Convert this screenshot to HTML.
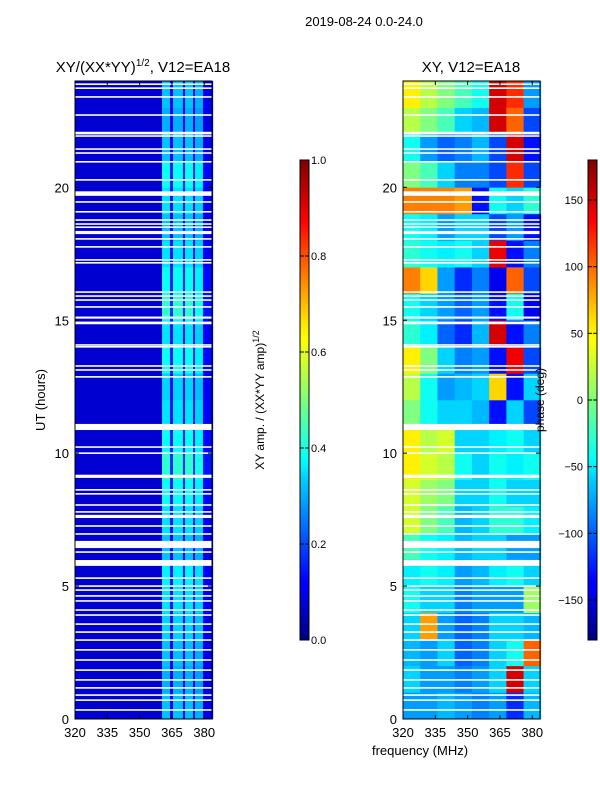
<!DOCTYPE html>
<html><head><meta charset="utf-8"><style>
body{margin:0;background:#fff;font-family:"Liberation Sans",sans-serif;}
svg text{font-family:"Liberation Sans",sans-serif;}
</style></head><body>
<svg id="fig" width="600" height="800" xmlns="http://www.w3.org/2000/svg">
<defs>
<linearGradient id="jet" x1="0" y1="1" x2="0" y2="0">
<stop offset="0" stop-color="#00007f"/><stop offset="0.11" stop-color="#0000ff"/><stop offset="0.125" stop-color="#0000ff"/>
<stop offset="0.34" stop-color="#00d4ff"/><stop offset="0.375" stop-color="#00ffff"/><stop offset="0.5" stop-color="#7dff7a"/>
<stop offset="0.625" stop-color="#ffff00"/><stop offset="0.66" stop-color="#ffe600"/><stop offset="0.875" stop-color="#ff0000"/><stop offset="1" stop-color="#7f0000"/>
</linearGradient>
</defs>
<text x="364" y="26" font-size="13" text-anchor="middle">2019-08-24 0.0-24.0</text>
<text x="143" y="72" font-size="15" text-anchor="middle">XY/(XX*YY)<tspan dy="-6" font-size="10">1/2</tspan><tspan dy="6">, V12=EA18</tspan></text>
<text x="471" y="72" font-size="15" text-anchor="middle">XY, V12=EA18</text>
<text transform="translate(45,400) rotate(-90)" font-size="13" text-anchor="middle">UT (hours)</text>
<text x="420" y="755" font-size="13" text-anchor="middle">frequency (MHz)</text>
<text transform="translate(264,400) rotate(-90)" font-size="12" text-anchor="middle">XY amp. / (XX*YY amp)<tspan dy="-5" font-size="9">1/2</tspan></text>
<g id="p1"></g>
<g id="p2"></g>
<g id="axes"></g>
<text transform="translate(544,400) rotate(-90)" font-size="12" text-anchor="middle">phase (deg)</text>
<rect x="300" y="160" width="9" height="480" fill="url(#jet)" stroke="#000" stroke-width="1"/>
<rect x="588" y="160" width="9" height="480" fill="url(#jet)" stroke="#000" stroke-width="1"/>
<g id="cb"></g>
</svg>
<script>
const ampFreqEdges=[320,360.4,364.1,365.5,370.1,371.1,374.8,375.7,379.4,384];
const ampBase=[0.08,0.35,0.14,0.35,0.14,0.35,0.14,0.33,0.12];
const ampRowGain=[0.9,0.85,0.9,0.95,1.0,1.05,0.9,1.0,1.1,1.2,1.1,1.0,0.95,1.1,1.0,1.2,1.1,1.0,0.9,1.0,1.1,0.9,0.85,0.9];
const phaseFreqEdges=[320,328,336,344,352,360,368,376,384];
const phaseVals=[
[-80,-80,-70,-80,-90,-80,-120,-70],
[-60,-80,-80,-90,-80,-60,150,-60],
[-70,-80,-60,-100,-90,-60,-40,100],
[-60,80,-80,-100,-90,-60,-60,-70],
[-40,-60,-60,-90,-80,-80,-80,10],
[-50,-40,-50,-80,-70,-50,-40,-60],
[-20,-40,-50,-70,-60,-60,-80,-80],
[30,0,-20,-70,-60,-30,-30,-50],
[30,10,0,-60,-60,-40,-60,-60],
[50,30,20,-40,-60,-40,-50,-40],
[50,20,30,-60,-60,-50,-40,-60],
[0,-40,-60,-60,-70,-130,-60,-110],
[20,-40,-80,-70,-60,60,-130,-60],
[50,0,-60,-90,-80,-130,140,-110],
[-30,-50,-100,-120,-70,150,-130,-90],
[-40,-60,-80,-100,-80,-130,-40,-140],
[90,60,-80,-120,-90,-140,100,-110],
[-30,-40,-50,-40,-60,140,-130,-90],
[-40,-50,-80,-60,-60,-110,-80,-130],
[90,90,90,80,-130,-40,-60,-30],
[0,-20,-60,-90,-90,-110,120,-110],
[-40,-80,-100,-90,-70,-110,150,-130],
[20,0,-20,-60,-70,150,100,-110],
[50,20,0,-20,-40,150,120,-80]];
const gapStarts=[23.85,23.7,23.37,22.69,21.99,21.9,21.41,21.26,20.93,20.25,19.68,19.42,19.05,18.74,18.59,18.47,18.24,18.03,17.73,17.24,17.13,16.03,15.88,15.73,15.47,15.06,14.85,14.04,13.97,13.25,13.1,12.84,10.87,10.2,9.97,9.07,8.59,8.44,8.02,7.76,7.56,7.23,6.93,6.43,6.25,5.76,5.27,4.97,4.82,4.6,4.41,4.07,3.88,3.54,3.24,2.94,2.57,2.19,1.81,1.44,1.14,0.87,0.68,0.31];
const gapWidths=[0.06,0.06,0.06,0.06,0.1,0.06,0.06,0.06,0.06,0.06,0.17,0.06,0.06,0.06,0.06,0.06,0.12,0.06,0.06,0.06,0.06,0.06,0.06,0.06,0.06,0.08,0.1,0.06,0.06,0.06,0.06,0.06,0.23,0.06,0.06,0.12,0.06,0.06,0.06,0.06,0.12,0.06,0.06,0.27,0.06,0.22,0.06,0.06,0.06,0.06,0.06,0.06,0.06,0.06,0.06,0.06,0.06,0.06,0.06,0.06,0.06,0.06,0.06,0.06];
const xTicks=[320,335,350,365,380];
const yTicks=[0,5,10,15,20];
const ampTicks=[0,0.2,0.4,0.6,0.8,1.0];
const phaseTicks=[-150,-100,-50,0,50,100,150];

const NS="http://www.w3.org/2000/svg";
const Y0=719,Y1=81;
const yS=h=>Y0-(h/24)*(Y0-Y1);
const xS=(x0)=>f=>x0+(f-320)*(137/63.6);
const xL=xS(75),xR=xS(403);
function jet(v){v=Math.max(0,Math.min(1,v));
 const r=Math.max(0,Math.min(1,1.5-Math.abs(4*v-3))),g=Math.max(0,Math.min(1,1.5-Math.abs(4*v-2))),b=Math.max(0,Math.min(1,1.5-Math.abs(4*v-1)));
 return `rgb(${Math.round(r*255)},${Math.round(g*255)},${Math.round(b*255)})`;}
function rect(p,x,y,w,h,fill){const r=document.createElementNS(NS,'rect');
 r.setAttribute('x',x);r.setAttribute('y',y);r.setAttribute('width',w);r.setAttribute('height',h);r.setAttribute('fill',fill);p.appendChild(r);return r;}
const p1=document.getElementById('p1'),p2=document.getElementById('p2');
for(let h=0;h<24;h++){
 for(let c=0;c<ampBase.length;c++){
  const v=c===0?ampBase[c]:ampBase[c]*ampRowGain[h];
  const r=rect(p1,xL(ampFreqEdges[c]),yS(h+1),xL(ampFreqEdges[c+1])-xL(ampFreqEdges[c])+0.3,yS(h)-yS(h+1)+0.3,jet(v));
  
  
 }
 for(let c=0;c<phaseVals[h].length;c++){
  const v=(phaseVals[h][c]+180)/360;
  const r=rect(p2,xR(phaseFreqEdges[c]),yS(h+1),xR(phaseFreqEdges[c+1])-xR(phaseFreqEdges[c])+0.3,yS(h)-yS(h+1)+0.3,jet(v));
  
  
 }
}
gapStarts.forEach((g,i)=>{
 [75,403].forEach(x0=>{
  const r=rect(x0===75?p1:p2,x0,yS(g+gapWidths[i]),137,yS(g)-yS(g+gapWidths[i]),'#fff');
  
  
 });
});
const ax=document.getElementById('axes');
function line(p,x1,y1,x2,y2){const l=document.createElementNS(NS,'line');
 l.setAttribute('x1',x1);l.setAttribute('y1',y1);l.setAttribute('x2',x2);l.setAttribute('y2',y2);l.setAttribute('stroke','#000');p.appendChild(l);return l;}
function text(p,x,y,s,anchor,size){const t=document.createElementNS(NS,'text');
 t.setAttribute('x',x);t.setAttribute('y',y);t.setAttribute('text-anchor',anchor);t.setAttribute('font-size',size);t.textContent=s;p.appendChild(t);return t;}
[[75,xL],[403,xR]].forEach(([x0,xs])=>{
 const f=rect(ax,x0,Y1,137,Y0-Y1,'none');f.setAttribute('stroke','#000');
 
 
 xTicks.forEach(t=>{const x=xs(t);line(ax,x,Y0,x,Y0-4);line(ax,x,Y1,x,Y1+4);
  const tx=text(ax,x,Y0+18,String(t),'middle',13);
  
  });
 yTicks.forEach(t=>{const y=yS(t);line(ax,x0,y,x0+4,y);line(ax,x0+137,y,x0+133,y);
  const tx=text(ax,x0-6,y+5,String(t),'end',13);
  
  });
});
const cb=document.getElementById('cb');
ampTicks.forEach(t=>{const y=640-t*480;line(cb,309,y,305,y);line(cb,300,y,304,y);
 const tx=text(cb,311,y+4,t.toFixed(1),'start',11);
 
 });
phaseTicks.forEach(t=>{const y=640-(t+180)/360*480;line(cb,597,y,593,y);line(cb,588,y,592,y);
 const tx=text(cb,583,y+4,t<0?'\u2212'+(-t):String(t),'end',11);
 
 });
</script>
</body></html>
